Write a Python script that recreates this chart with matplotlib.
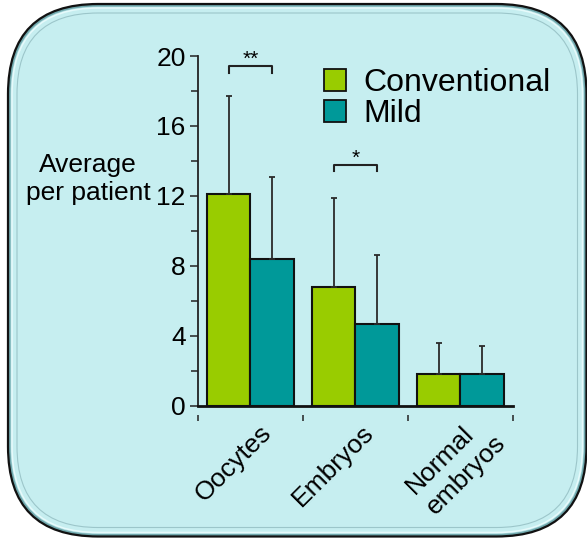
import matplotlib
matplotlib.use("Agg")
import matplotlib.pyplot as plt
from matplotlib.patches import FancyBboxPatch, Patch
from matplotlib.transforms import offset_copy
import numpy as np

plt.rcParams['font.family'] = ['Liberation Sans', 'DejaVu Sans']

categories = ["Oocytes", "Embryos", "Normal\nembryos"]
series_names = ["Conventional", "Mild"]
conventional_mean = [12.1, 6.8, 1.8]
conventional_sd = [5.6, 5.1, 1.8]
mild_mean = [8.4, 4.7, 1.8]
mild_sd = [4.7, 3.9, 1.6]
significance = {0: "**", 1: "*"}
bracket_levels = {0: 19.4, 1: 13.75}
y_ticks = [0, 4, 8, 12, 16, 20]

W, H = 587, 538
fig = plt.figure(figsize=(W / 100, H / 100), dpi=100)

# rounded panel behind the chart, laid out in pixel units
bg = fig.add_axes([0, 0, 1, 1], zorder=0)
bg.set_xlim(0, W)
bg.set_ylim(H, 0)
bg.axis('off')


def panel(inset, **kw):
    x0, y0, x1, y1 = 8 + inset, 4 + inset, 586.5 - inset, 536.5 - inset
    p = FancyBboxPatch((x0, y0), x1 - x0, y1 - y0,
                       boxstyle=f"round,pad=0,rounding_size={90 - inset}", **kw)
    bg.add_patch(p)


panel(0, facecolor='#6FA6AB', edgecolor='#111111', linewidth=1.6)
panel(2.5, facecolor='#A8D8DC', edgecolor='none')
panel(4, facecolor='#C6EEF0', edgecolor='#E6FAFB', linewidth=1.2)
panel(9, facecolor='none', edgecolor='#9CC6CA', linewidth=0.8)

# bar chart
ax = fig.add_axes([198 / W, 1 - 405.7 / H, 315 / W, (405.7 - 56) / H], zorder=1)
ax.set_facecolor('none')

x = np.arange(len(categories))
bw = 0.41
conv_color = '#99CC00'
mild_color = '#009999'
err_kw = dict(ecolor='#2a2a2a', elinewidth=1.3, capsize=2.2, capthick=1.3)

ax.bar(x - bw / 2, conventional_mean, bw, color=conv_color, edgecolor='#111111',
       linewidth=1.5, yerr=[np.zeros(3), conventional_sd], error_kw=err_kw, zorder=3)
ax.bar(x + bw / 2, mild_mean, bw, color=mild_color, edgecolor='#111111',
       linewidth=1.5, yerr=[np.zeros(3), mild_sd], error_kw=err_kw, zorder=3)

# significance brackets
for i, star in significance.items():
    top = bracket_levels[i]
    xl, xr = i - bw / 2, i + bw / 2
    ax.plot([xl, xl, xr, xr], [top - 0.35, top, top, top - 0.35],
            color='#222222', lw=1.5, zorder=4, clip_on=False)
    ax.text(i, top - 0.12, star, ha='center', va='bottom', fontsize=15, zorder=4)

ax.set_xlim(-0.5, 2.5)
ax.set_ylim(0, 20)

for s in ['top', 'right']:
    ax.spines[s].set_visible(False)
ax.spines['left'].set_linewidth(1.3)
ax.spines['left'].set_color('#222222')
# bottom spine carries only the separator ticks, offset below the baseline
ax.spines['bottom'].set_position(('outward', 7))
ax.spines['bottom'].set_color('none')
ax.axhline(0, color='#111111', lw=2.0, zorder=5, clip_on=False)

ax.set_yticks(y_ticks)
ax.set_yticks(np.arange(0, 21, 2), minor=True)
ax.tick_params(axis='y', which='both', direction='out', length=6, width=1.1,
               color='#222222', labelsize=19, pad=3)
ax.tick_params(axis='y', which='minor', length=5)

ax.set_xticks([])
ax.set_xticks([-0.5, 0.5, 1.5, 2.5], minor=True)
ax.tick_params(axis='x', which='minor', direction='out', length=4, width=1.1,
               color='#222222')

# rotated category labels
label_offsets = [(17, -23), (15, -23), (31, -23)]
for i, (lab, (dx, dy)) in enumerate(zip(categories, label_offsets)):
    tr = offset_copy(ax.get_xaxis_transform(), fig=fig, x=dx, y=dy, units='dots')
    ax.text(i, 0, lab, transform=tr, rotation=45, rotation_mode='anchor',
            ha='right', va='center', multialignment='left', fontsize=19,
            linespacing=1.3)

# legend
handles = [Patch(facecolor=conv_color, edgecolor='#111111', linewidth=1.3),
           Patch(facecolor=mild_color, edgecolor='#111111', linewidth=1.3)]
ax.legend(handles, series_names, loc='upper left', bbox_to_anchor=(0.4, 0.965),
          frameon=False, fontsize=23, handlelength=0.68, handleheight=0.68,
          handletextpad=0.55, labelspacing=0.02, borderpad=0, borderaxespad=0)

fig.text(88 / W, 1 - 179 / H, "Average\nper patient", ha='center', va='center',
         multialignment='center', fontsize=19, linespacing=1.2)

fig.savefig("out.png", dpi=100)
